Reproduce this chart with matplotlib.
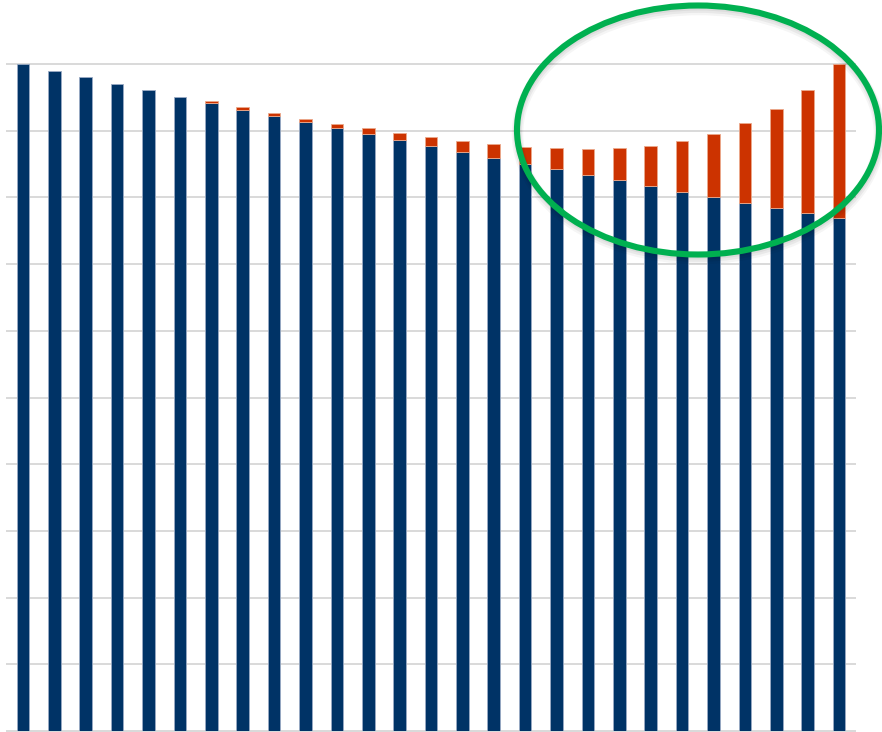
import matplotlib
matplotlib.use("Agg")
import matplotlib.pyplot as plt
from matplotlib.patches import Ellipse
import numpy as np

# Base share (navy) and added share (orange) per period
periods = list(range(1, 28))
base = [100, 99.0, 98.0, 97.0, 96.05, 95.05, 94.1, 93.15, 92.25, 91.35,
        90.4, 89.45, 88.55, 87.65, 86.8, 85.95, 85.05, 84.2, 83.4, 82.55,
        81.75, 80.85, 80.1, 79.2, 78.45, 77.65, 76.95]
extra = [0, 0, 0, 0, 0, 0, 0.3, 0.35, 0.45, 0.45,
         0.65, 0.9, 1.1, 1.35, 1.65, 2.0, 2.5, 3.15, 3.85, 4.8,
         6.0, 7.6, 9.4, 11.9, 14.75, 18.45, 23.05]
y_ticks = list(range(0, 101, 10))

NAVY = "#003366"
ORANGE = "#CC3300"
GREEN = "#00B050"

W, H = 882, 732
fig = plt.figure(figsize=(W / 100, H / 100), dpi=100)
fig.patch.set_facecolor("white")

ax = fig.add_axes([7.3 / W, 1 / H, (854.7 - 7.3) / W, (731 - 64) / H])
x = np.arange(len(periods))
ax.bar(x, base, width=0.4, color=NAVY, edgecolor="#9AABC4", linewidth=0.6, zorder=3)
extra_lw = [0.6 if e > 0 else 0 for e in extra]
ax.bar(x, extra, bottom=base, width=0.4, color=ORANGE,
       edgecolor="#EBA98C", linewidth=extra_lw, zorder=3)

ax.set_xlim(-0.5, len(periods) - 0.5)
ax.set_ylim(0, 100)
for v in y_ticks:
    ax.axhline(v, color="#D9D9D9", linewidth=1.4, zorder=1, clip_on=False)
ax.set_xticks([])
ax.set_yticks([])
for s in ax.spines.values():
    s.set_visible(False)
ax.set_facecolor("none")

# Highlight ring around the last periods, with a soft drop shadow
cx, cy, rw, rh = 698 / W, 1 - 130 / H, 362 / W, 249 / H
for i, a in enumerate([0.05, 0.05, 0.04]):
    fig.patches.append(Ellipse((cx + 0.5 / W, cy - (2 + i) / H), rw, rh,
                               transform=fig.transFigure, fill=False,
                               edgecolor="black", alpha=a,
                               linewidth=4.3 + 2 * i, zorder=4))
fig.patches.append(Ellipse((cx, cy), rw, rh, transform=fig.transFigure,
                           fill=False, edgecolor=GREEN, linewidth=4.4, zorder=5))

fig.savefig("out.png", dpi=100, facecolor="white")
